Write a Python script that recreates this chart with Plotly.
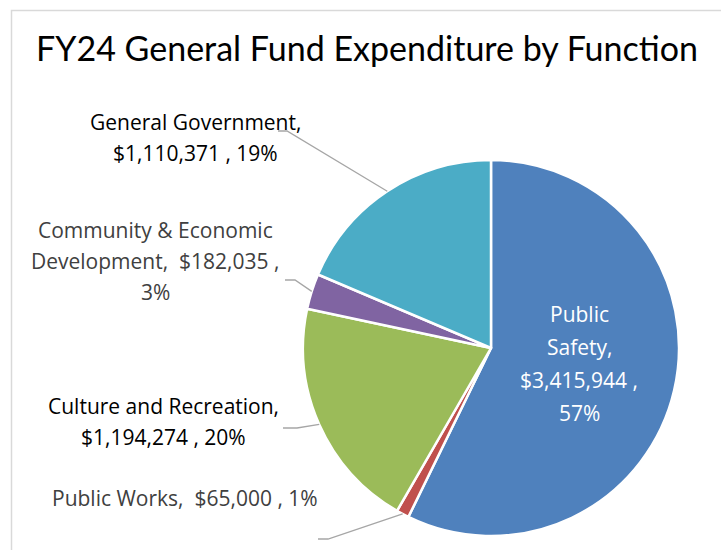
import math
import plotly.graph_objects as go

# General fund expenditure by function, FY24
categories = ["Public Safety", "Public Works", "Culture and Recreation",
              "Community & Economic Development", "General Government"]
amounts = [3415944, 65000, 1194274, 182035, 1110371]
colors = ["#4F81BD", "#C0504D", "#9BBB59", "#8064A2", "#4BACC6"]

W, H = 721, 550
CX, CY, R = 491, 348, 188  # pie centre and radius in pixels

total = sum(amounts)
pct = [round(100 * a / total) for a in amounts]


def money(v):
    return "${:,}".format(v)


def px(x):
    return x / W


def py(y):
    return 1 - y / H


fig = go.Figure(go.Pie(
    labels=categories,
    values=amounts,
    sort=False,
    direction="clockwise",
    rotation=0,
    marker=dict(colors=colors, line=dict(color="white", width=2.5)),
    textinfo="none",
    hoverinfo="label+value+percent",
    showlegend=False,
    domain=dict(x=[px(CX - R), px(CX + R)], y=[py(CY + R), py(CY - R)]),
))

# mid-angle (clockwise from 12 o'clock) of each slice and its point on the rim
mid_pts = []
cum = 0
for a in amounts:
    ang = 2 * math.pi * (cum + a / 2) / total
    cum += a
    mid_pts.append((CX + R * math.sin(ang), CY - R * math.cos(ang)))

FONT = "Open Sans"
DARK = "#404040"
LINE = "#A6A6A6"
LABEL_SIZE = 21

annotations = []
shapes = []


def add_lines(lines, x, y0, color, size=LABEL_SIZE, step=31):
    for i, t in enumerate(lines):
        annotations.append(dict(
            x=px(x), y=py(y0 + i * step), xref="paper", yref="paper",
            text=t, showarrow=False, xanchor="center", yanchor="middle",
            font=dict(family=FONT, size=size, color=color)))


def leader(idx, stub_x0, stub_x1, stub_y):
    ex, ey = mid_pts[idx]
    path = "M {} {} L {} {} L {} {}".format(
        px(stub_x0), py(stub_y), px(stub_x1), py(stub_y), px(ex), py(ey))
    shapes.append(dict(type="path", xref="paper", yref="paper", path=path,
                       line=dict(color=LINE, width=1.3)))


# Public Safety label inside its slice
ps = 0
add_lines(["Public", "Safety,", money(amounts[ps]) + " ,", "{}%".format(pct[ps])],
          579, 314, "white", step=33)

# General Government
gg = 4
add_lines(["General Government,", "{} , {}%".format(money(amounts[gg]), pct[gg])],
          195, 122, "black")
leader(gg, 278, 287, 131)

# Community & Economic Development
ce = 3
add_lines(["Community & Economic",
           "Development,  {} ,".format(money(amounts[ce])),
           "{}%".format(pct[ce])], 155, 230, DARK)
leader(ce, 285, 295, 280)

# Culture and Recreation
cr = 2
add_lines(["Culture and Recreation,",
           "{} , {}%".format(money(amounts[cr]), pct[cr])], 163, 406, "black")
leader(cr, 283, 297, 428)

# Public Works
pw = 1
add_lines(["Public Works,  {} , {}%".format(money(amounts[pw]), pct[pw])],
          185, 498, DARK)
leader(pw, 318, 328, 539)

# chart frame
shapes.append(dict(type="rect", xref="paper", yref="paper",
                   x0=px(11.5), y0=py(10.5), x1=px(W + 20), y1=py(H + 20),
                   line=dict(color="#D9D9D9", width=1.5), layer="below"))

fig.update_layout(
    width=W, height=H,
    margin=dict(l=0, r=0, t=0, b=0),
    paper_bgcolor="white",
    plot_bgcolor="white",
    title=dict(text="FY24 General Fund Expenditure by Function",
               x=px(367), y=py(49), xanchor="center", yanchor="middle",
               font=dict(family="Lato", size=34, color="black")),
    annotations=annotations,
    shapes=shapes,
)

fig.write_html("out.html")
